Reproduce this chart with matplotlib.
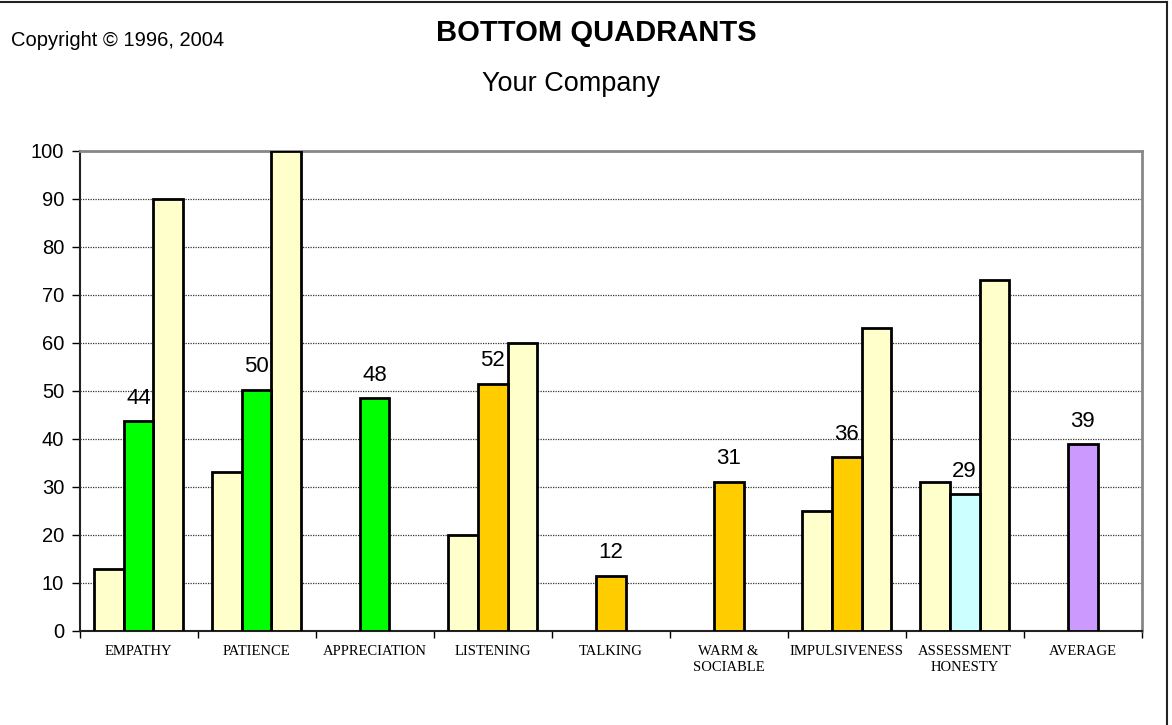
import matplotlib
matplotlib.use("Agg")
import matplotlib.pyplot as plt
from matplotlib.lines import Line2D
import numpy as np

categories = ["EMPATHY", "PATIENCE", "APPRECIATION", "LISTENING", "TALKING",
              "WARM &\nSOCIABLE", "IMPULSIVENESS", "ASSESSMENT\nHONESTY", "AVERAGE"]
low_values = [13, 33, None, 20, None, None, 25, 31, None]
mid_values = [43.7, 50.2, 48.4, 51.5, 11.5, 31.1, 36.2, 28.5, 38.9]
mid_labels = ["44", "50", "48", "52", "12", "31", "36", "29", "39"]
high_values = [90, 100, None, 60, None, None, 63, 73, None]
mid_colors = ["#00FF00", "#00FF00", "#00FF00", "#FFCC00", "#FFCC00",
              "#FFCC00", "#FFCC00", "#CCFFFF", "#CC99FF"]
side_color = "#FFFFCC"
yticks = [0, 10, 20, 30, 40, 50, 60, 70, 80, 90, 100]

W, H = 1172, 725
fig = plt.figure(figsize=(W / 100, H / 100), dpi=100)
ax = fig.add_axes([79.5 / W, 1 - 631 / H, (1141.7 - 79.5) / W, (631 - 150.5) / H])

x = np.arange(len(categories))
bw = 0.253
for i in range(len(categories)):
    if low_values[i] is not None:
        ax.bar(x[i] - bw, low_values[i], bw, color=side_color, edgecolor="black", linewidth=2, zorder=3)
    if high_values[i] is not None:
        ax.bar(x[i] + bw, high_values[i], bw, color=side_color, edgecolor="black", linewidth=2, zorder=3)
    ax.bar(x[i], mid_values[i], bw, color=mid_colors[i], edgecolor="black", linewidth=2, zorder=3)
    ax.annotate(mid_labels[i], (x[i], mid_values[i]), xytext=(0, 9),
                textcoords="offset points", ha="center", va="bottom",
                fontsize=16, family="Liberation Sans", zorder=2)

ax.set_xlim(-0.5, len(categories) - 0.5)
ax.set_ylim(0, 100)
ax.set_yticks(yticks)
ax.set_yticklabels([str(v) for v in yticks], fontsize=14.5, family="Liberation Sans")
ax.set_xticks(x)
ax.set_xticklabels(categories, fontsize=10.5, family="Liberation Serif", linespacing=1.3)
ax.set_xticks(np.arange(-0.5, len(categories), 1), minor=True)
ax.tick_params(axis="x", which="major", length=0, pad=10)
ax.tick_params(axis="x", which="minor", length=5, width=1, direction="out")
ax.tick_params(axis="y", length=6, width=1, direction="out", pad=5)
ax.yaxis.grid(True, linestyle=(0, (1, 1)), color="#333333", linewidth=0.9, zorder=0)
ax.set_axisbelow(True)
for s in ["top", "right"]:
    ax.spines[s].set_color("#888888")
    ax.spines[s].set_linewidth(2)
for s in ["left", "bottom"]:
    ax.spines[s].set_color("#222222")
    ax.spines[s].set_linewidth(1.5)

fig.text(596 / W, 1 - 33 / H, "BOTTOM QUADRANTS", ha="center", va="center",
         fontsize=21, fontweight="bold", family="Liberation Sans")
fig.text(571.5 / W, 1 - 84 / H, "Your Company", ha="center", va="center",
         fontsize=19.5, family="Liberation Sans")
fig.text(11 / W, 1 - 41 / H, "Copyright \u00a9 1996, 2004", ha="left", va="center",
         fontsize=14.5, family="Liberation Sans")

fig.add_artist(Line2D([0, 1167 / W], [1 - 1.5 / H, 1 - 1.5 / H], transform=fig.transFigure, color="#222222", linewidth=1.5))
fig.add_artist(Line2D([1167 / W, 1167 / W], [0, 1 - 1.5 / H], transform=fig.transFigure, color="#222222", linewidth=1.5))

fig.savefig("out.png", dpi=100)
